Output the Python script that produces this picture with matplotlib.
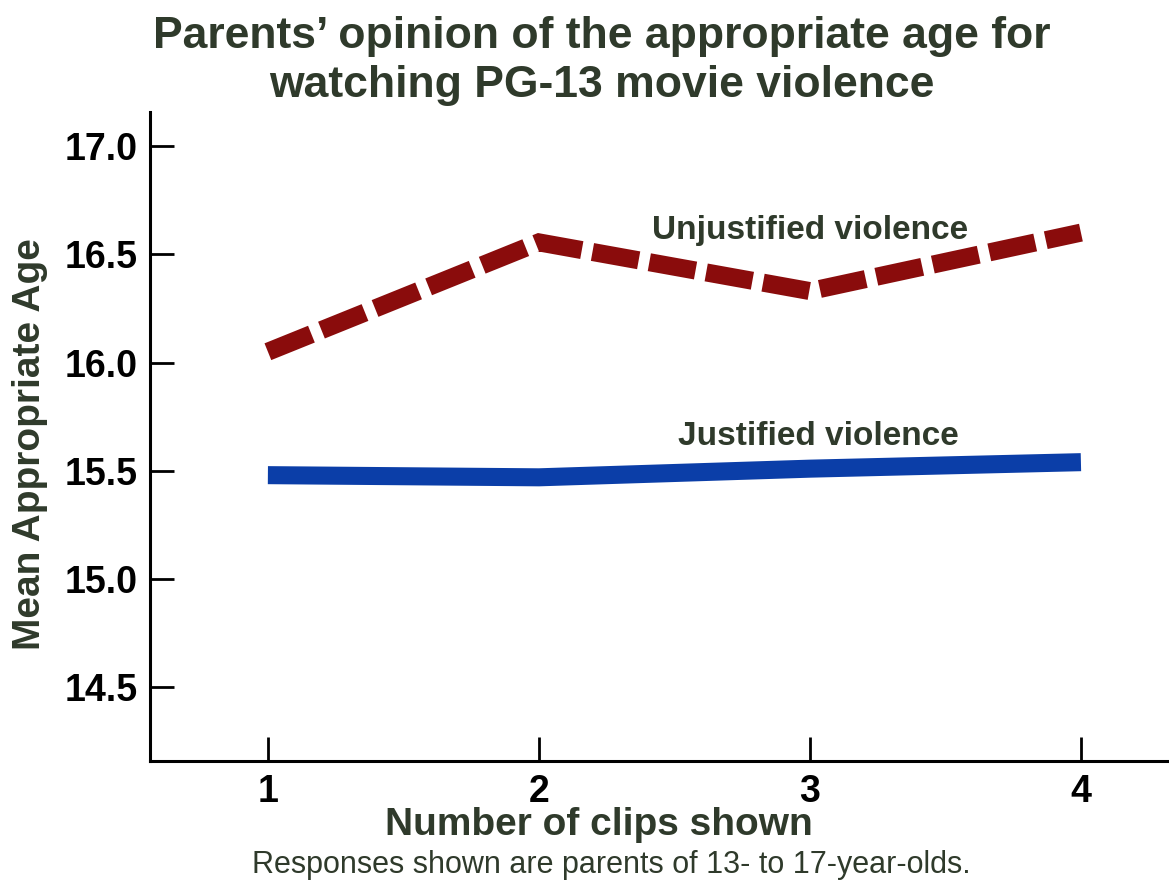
import numpy as np
from matplotlib import pyplot as plt

plt.rcParams['font.family'] = ['Liberation Sans', 'DejaVu Sans']

# Number of clips shown
clips = np.array([1, 2, 3, 4])
unjustified = np.array([16.05, 16.555, 16.33, 16.60])
justified = np.array([15.48, 15.47, 15.51, 15.54])

yticks = [14.5, 15.0, 15.5, 16.0, 16.5, 17.0]

text_col = '#2f3a2b'

fig = plt.figure(figsize=(11.69, 8.82), dpi=100)
ax = fig.add_axes([150/1169, 121/882, 1019/1169, 649/882])

ax.plot(clips, unjustified, color='#8a0c0c', lw=13, dashes=(2.6, 0.6),
        solid_capstyle='butt', dash_capstyle='butt', dash_joinstyle='miter')
ax.plot(clips, justified, color='#0b3ea8', lw=13, solid_capstyle='butt')

ax.text(3.0, 16.61, 'Unjustified violence', fontsize=24, fontweight='bold',
        color=text_col, ha='center', va='center')
ax.text(3.03, 15.66, 'Justified violence', fontsize=24, fontweight='bold',
        color=text_col, ha='center', va='center')

ax.set_xlim(0.565, 4.325)
ax.set_ylim(14.16, 17.157)
ax.set_xticks(clips)
ax.set_yticks(yticks)
ax.set_yticklabels(['%.1f' % v for v in yticks])
ax.tick_params(direction='in', length=17, width=2, labelsize=27, pad=9, colors='black')
for lab in ax.get_xticklabels() + ax.get_yticklabels():
    lab.set_fontweight('bold')

ax.spines['top'].set_visible(False)
ax.spines['right'].set_visible(False)
ax.spines['left'].set_linewidth(2.2)
ax.spines['bottom'].set_linewidth(2.2)

fig.text(599/1169, 1 - 825/882, 'Number of clips shown', fontsize=28, fontweight='bold',
         color=text_col, ha='center', va='center')
fig.text(30/1169, 1 - 444/882, 'Mean Appropriate Age', fontsize=28, fontweight='bold',
         color=text_col, ha='center', va='center', rotation=90)

fig.text(602/1169, 1 - 61/882, 'Parents\u2019 opinion of the appropriate age for\nwatching PG-13 movie violence',
         fontsize=32, fontweight='bold', color=text_col, ha='center', va='center', linespacing=1.22)
fig.text(611/1169, 1 - 865/882, 'Responses shown are parents of 13- to 17-year-olds.', fontsize=22,
         color=text_col, ha='center', va='center')

fig.savefig('out.png', dpi=100)
